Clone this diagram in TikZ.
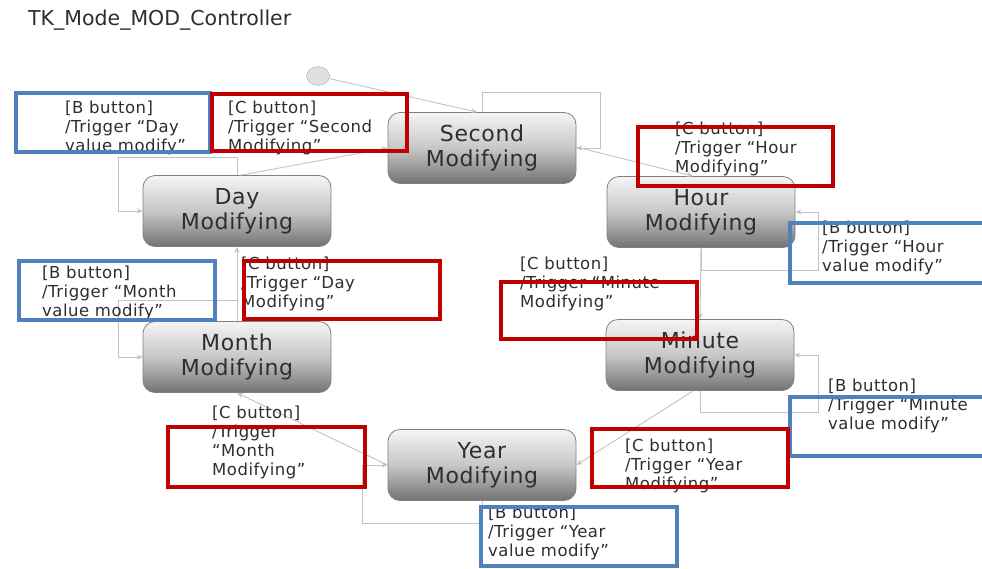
\documentclass[tikz,border=0pt]{standalone}
\usepackage{fontspec}
\setmainfont{DejaVu Sans}
\newfontfamily\lblfont[LetterSpace=3]{DejaVu Sans}
\newfontfamily\stfont[LetterSpace=3]{DejaVu Sans}
\usetikzlibrary{arrows.meta,shapes.geometric}
\definecolor{redbox}{HTML}{C00000}
\definecolor{bluebox}{HTML}{4F81BD}
\definecolor{connc}{HTML}{C2C2C2}
\definecolor{txt}{HTML}{2E2E2E}
\begin{document}
\begin{tikzpicture}[x=1pt,y=-1pt,
  state/.style={rounded corners=12pt, minimum width=188pt, minimum height=71pt,
    draw=black!50, line width=0.8pt, top color=black!4, bottom color=black!55,
    middle color=black!22, align=center, text=txt, inner sep=0pt,
    font=\stfont\fontsize{22}{25}\selectfont},
  lbl/.style={anchor=north west, align=left, inner sep=0pt, text=txt,
    font=\lblfont\fontsize{16.5}{19}\selectfont},
  conn/.style={draw=connc, line width=0.9pt},
  arr/.style={conn, -{Stealth[length=6pt,width=5pt]}},
  rbox/.style={draw=redbox, line width=4pt},
  bbox/.style={draw=bluebox, line width=4pt}]
\useasboundingbox (0,0) rectangle (982,568);

% title
\node[anchor=west, inner sep=0pt, text=txt, font=\fontsize{20.5}{24}\selectfont] (title) at (28,20) {TK\_Mode\_MOD\_Controller};

% states
\node[state] (sec) at (482,148) {Second\\Modifying};
\node[state] (hour) at (701,212) {Hour\\Modifying};
\node[state] (day) at (237,211) {Day\\Modifying};
\node[state] (month) at (237,357) {Month\\Modifying};
\node[state] (minute) at (700,355) {Minute\\Modifying};
\node[state] (year) at (482,465) {Year\\Modifying};

% initial state
\node[ellipse, draw=black!30, fill=black!12, minimum width=23pt, minimum height=19pt, inner sep=0pt] (init) at (318,76) {};

% loop corner coordinates
\coordinate (secA) at (600,92);
\coordinate (hourA) at (818,270);
\coordinate (minA) at (818,412);
\coordinate (yearA) at (362,523);
\coordinate (monA) at (118,300);
\coordinate (dayA) at (118,157);

% transitions
\draw[arr] (init) -- ([xshift=-5pt]sec.north);
\draw[arr] (sec.north) |- (secA) |- (sec.east);
\draw[arr] ([yshift=1pt]sec.east) -- ([xshift=-8pt]hour.north);
\draw[arr] (hour.south) |- (hourA) |- (hour.east);
\draw[arr] (hour.south) -- (minute.north);
\draw[arr] (minute.south) |- (minA) |- (minute.east);
\draw[arr] ([xshift=-7pt]minute.south) -- (year.east);
\draw[arr] (year.south) |- (yearA) |- (year.west);
\draw[arr] (year.west) -- (month.south);
\draw[arr] (month.north) |- (monA) |- (month.west);
\draw[arr] (month.north) -- (day.south);
\draw[arr] (day.north) |- (dayA) |- (day.west);
\draw[arr] ([xshift=4pt]day.north) -- (sec.west);

% labels
\node[lbl] (tdayB) at (65,101) {[B button]\\/Trigger “Day\\value modify”};
\node[lbl] (tsecC) at (228,101) {[C button]\\/Trigger “Second\\Modifying”};
\node[lbl] (thourC) at (675,122) {[C button]\\/Trigger “Hour\\Modifying”};
\node[lbl] (thourB) at (822,221) {[B button]\\/Trigger “Hour\\value modify”};
\node[lbl] (tmonB) at (42,266) {[B button]\\/Trigger “Month\\value modify”};
\node[lbl] (tdayC) at (241,257) {[C button]\\/Trigger “Day\\Modifying”};
\node[lbl] (tminC) at (520,257) {[C button]\\/Trigger “Minute\\Modifying”};
\node[lbl] (tminB) at (828,379) {[B button]\\/Trigger “Minute\\value modify”};
\node[lbl] (tyearC) at (625,439) {[C button]\\/Trigger “Year\\Modifying”};
\node[lbl] (tmonC) at (212,406) {[C button]\\/Trigger\\“Month\\Modifying”};
\node[lbl] (tyearB) at (488,506) {[B button]\\/Trigger “Year\\value modify”};

% highlight boxes
\draw[bbox] (15.5,92.5) rectangle (210,152);
\draw[rbox] (212,94) rectangle (407,151);
\draw[rbox] (638,127) rectangle (833,186);
\draw[bbox] (790,223) rectangle (986,283);
\draw[bbox] (19,261) rectangle (215,320);
\draw[rbox] (244,261) rectangle (440,319);
\draw[rbox] (501,282) rectangle (697,339);
\draw[bbox] (790,397) rectangle (986,456);
\draw[rbox] (168,427) rectangle (365,487);
\draw[rbox] (592,429) rectangle (788,487);
\draw[bbox] (481,507) rectangle (677,566);
\end{tikzpicture}
\end{document}
